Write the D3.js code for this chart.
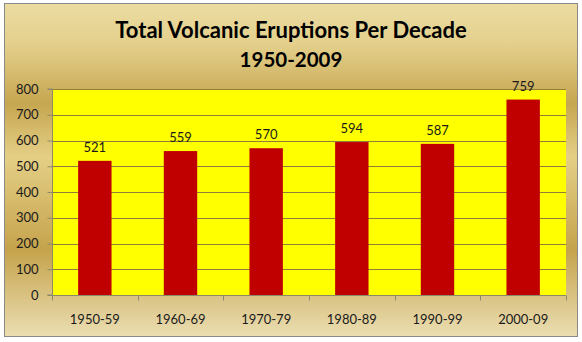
<!DOCTYPE html>
<html><head><meta charset="utf-8">
<script src="https://cdn.jsdelivr.net/npm/d3@7"></script>
<style>html,body{margin:0;padding:0;background:#fff;}svg{display:block;}</style>
</head><body>
<script>
const categories = ["1950-59","1960-69","1970-79","1980-89","1990-99","2000-09"];
const values = [521, 559, 570, 594, 587, 759];
const yTicks = [0,100,200,300,400,500,600,700,800];
const titleLines = ["Total Volcanic Eruptions Per Decade","1950-2009"];

const W = 582, H = 342;
const plot = {left:52, right:566, top:89, bottom:295};
const font = "Lato, 'Open Sans', sans-serif";

const svg = d3.select("body").append("svg").attr("width",W).attr("height",H);
const defs = svg.append("defs");
const g = defs.append("linearGradient").attr("id","gold").attr("x1",0).attr("y1",0).attr("x2",0).attr("y2",1);
[[0,"#ebdca2"],[0.12,"#e4d08c"],[0.30,"#c6a650"],[0.46,"#e4cf86"],[0.74,"#c5a34c"],[1,"#ebdeb2"]]
  .forEach(([o,c])=>g.append("stop").attr("offset",o).attr("stop-color",c));

svg.append("rect").attr("x",4.5).attr("y",3.5).attr("width",573).attr("height",333)
  .attr("fill","url(#gold)").attr("stroke","#8a8a8a").attr("stroke-width",1);

const x = d3.scaleBand().domain(categories).range([plot.left, plot.right]).paddingInner(0.61).paddingOuter(0.305);
const y = d3.scaleLinear().domain([0,800]).range([plot.bottom, plot.top]);

svg.append("rect").attr("x",plot.left).attr("y",plot.top).attr("width",plot.right-plot.left).attr("height",plot.bottom-plot.top).attr("fill","#ffff00");

// gridlines
svg.append("g").selectAll("line").data(yTicks.filter(d=>d>0)).join("line")
  .attr("x1",plot.left).attr("x2",plot.right)
  .attr("y1",d=>Math.round(y(d))+0.5).attr("y2",d=>Math.round(y(d))+0.5)
  .attr("stroke","#8f8035").attr("stroke-width",1);

// bars
svg.append("g").selectAll("rect").data(values).join("rect")
  .attr("x",(d,i)=>x(categories[i])).attr("width",x.bandwidth())
  .attr("y",d=>y(d)).attr("height",d=>y(0)-y(d)).attr("fill","#c00000");

// value labels
svg.append("g").selectAll("text").data(values).join("text")
  .attr("x",(d,i)=>x(categories[i])+x.bandwidth()/2).attr("y",d=>y(d)-9)
  .attr("text-anchor","middle").attr("font-family",font).attr("font-size",13).attr("fill","#1a1a1a")
  .text(d=>d);

// y axis
const yAxis = svg.append("g").attr("transform",`translate(${plot.left+0.5},0)`)
  .call(d3.axisLeft(y).tickValues(yTicks).tickSize(5).tickPadding(9).tickFormat(d3.format("d")));
yAxis.select(".domain").attr("stroke","#8a8a6a").attr("d",`M-5,${plot.top}H0V${plot.bottom}H-5`);
yAxis.selectAll(".tick line").attr("stroke","#8a8a6a");
yAxis.selectAll("text").attr("font-family",font).attr("font-size",13).attr("fill","#1a1a1a");

// x axis
const xAxis = svg.append("g").attr("transform",`translate(0,${plot.bottom+0.5})`)
  .call(d3.axisBottom(x).tickSize(0).tickPadding(19));
xAxis.select(".domain").attr("stroke","#8a8a6a").attr("d",`M${plot.left},0H${plot.right}`);
xAxis.selectAll("text").attr("font-family",font).attr("font-size",13).attr("fill","#1a1a1a");
const bounds = [plot.left, ...categories.map((c,i)=>plot.left+(i+1)*(plot.right-plot.left)/categories.length)];
xAxis.append("g").selectAll("line").data(bounds).join("line")
  .attr("x1",d=>Math.round(d)+0.5).attr("x2",d=>Math.round(d)+0.5).attr("y1",0).attr("y2",5)
  .attr("stroke","#8a8a6a");

// title
svg.append("g").selectAll("text").data(titleLines).join("text")
  .attr("x",W/2).attr("y",(d,i)=>i===0?38:67).attr("text-anchor","middle")
  .attr("font-family",font).attr("font-weight","bold").attr("font-size",(d,i)=>i===0?22:20.5).attr("fill","#000")
  .text(d=>d);
</script>
</body></html>
